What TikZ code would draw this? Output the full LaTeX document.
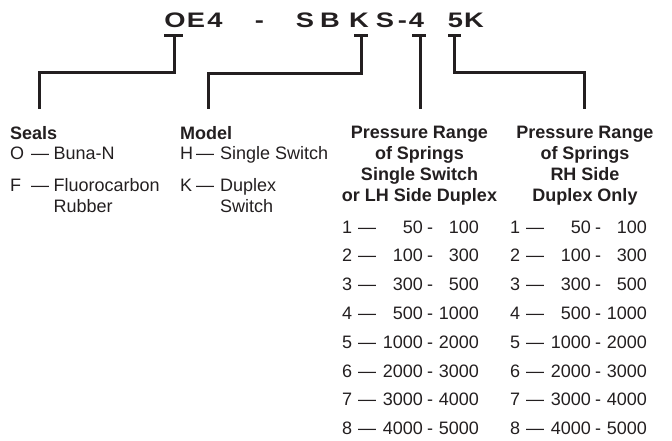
\documentclass[tikz,border=0pt]{standalone}
\usepackage{fontspec}
\setmainfont{Liberation Sans}
\usetikzlibrary{calc}

\definecolor{ink}{HTML}{231F20}

% Letra ancha del codigo
\newcommand{\wide}[1]{\scalebox{1.3}[1]{#1}}

\begin{document}
\begin{tikzpicture}[x=1pt, y=-1pt, line join=miter,
    code/.style={font=\fontsize{21}{25}\selectfont\bfseries, text=ink, inner sep=0pt, anchor=base},
    head/.style={font=\fontsize{18}{21}\selectfont\bfseries, text=ink, inner sep=0pt, anchor=base},
    item/.style={font=\fontsize{18}{21}\selectfont, text=ink, inner sep=0pt, anchor=base west},
    num/.style={item, anchor=base east},
    lead/.style={draw=ink, line width=3pt}]

    \useasboundingbox (0,0) rectangle (672,440);

    % Codigo de pedido
    \node[code] (cO)  at (175,27)   {\wide{O}};
    \node[code] (cE)  at (196,27)   {\wide{E}};
    \node[code] (c4)  at (215,27)   {\wide{4}};
    \node[code] (cDa) at (259.5,27) {\wide{-}};
    \node[code] (cS)  at (305,27)   {\wide{S}};
    \node[code] (cB)  at (330,27)   {\wide{B}};
    \node[code] (cK)  at (359,27)   {\wide{K}};
    \node[code] (cS2) at (385,27)   {\wide{S}};
    \node[code] (cDb) at (402.5,27) {\wide{-}};
    \node[code] (c4b) at (416.5,27) {\wide{4}};
    \node[code] (c5)  at (455.5,27) {\wide{5}};
    \node[code] (cK2) at (474,27)   {\wide{K}};

    % Puntos de las guias
    \coordinate (tO) at ($(cO.base)+(-1,8)$);
    \coordinate (tK) at ($(cK.base)+(2,8)$);
    \coordinate (t4) at ($(c4b.base)+(3.5,8)$);
    \coordinate (t5) at ($(c5.base)+(-1.5,8)$);

    \coordinate (eSeals) at (39,109);
    \coordinate (eModel) at (208,109);
    \coordinate (eLeft)  at (t4 |- 0,109);
    \coordinate (eRight) at (584,109);

    % Guias
    \draw[lead] ($(tO)+(-10,0)$) -- ($(tO)+(9,0)$);
    \draw[lead] (tO) |- (eSeals |- 0,72) -- (eSeals);

    \draw[lead] ($(tK)+(-7,0)$) -- ($(tK)+(7,0)$);
    \draw[lead] (tK) |- (eModel |- 0,73) -- (eModel);

    \draw[lead] ($(t4)+(-8,0)$) -- ($(t4)+(6,0)$);
    \draw[lead] (t4) -- (eLeft);

    \draw[lead] ($(t5)+(-6,0)$) -- ($(t5)+(7,0)$);
    \draw[lead] (t5) |- (eRight |- 0,72) -- (eRight);

    % Sellos
    \node[head, anchor=base west] (seals) at (10,139) {Seals};
    \node[item] (sO)  at (10,159) {O};
    \node[item] (sOd) at (31,159) {\textemdash};
    \node[item] (sOt) at (53.5,159) {Buna-N};
    \node[item] (sF)  at (10,191) {F};
    \node[item] (sFd) at (31,191) {\textemdash};
    \node[item] (sFt) at (53.5,191) {Fluorocarbon};
    \node[item] (sFu) at (53.5,212) {Rubber};

    % Modelo
    \node[head, anchor=base west] (model) at (180,139) {Model};
    \node[item] (mH)  at (180,159) {H};
    \node[item] (mHd) at (196,159) {\textemdash};
    \node[item] (mHt) at (220,159) {Single Switch};
    \node[item] (mK)  at (180,191) {K};
    \node[item] (mKd) at (196,191) {\textemdash};
    \node[item] (mKt) at (220,191) {Duplex};
    \node[item] (mKu) at (220,212) {Switch};

    % Rangos de presion
    \node[head] (pl1) at (419.5,138)   {Pressure Range};
    \node[head] (pl2) at (419.5,159.3) {of Springs};
    \node[head] (pl3) at (419.5,180.6) {Single Switch};
    \node[head] (pl4) at (419.5,201.9) {or LH Side Duplex};

    \node[head] (pr1) at (585,138)   {Pressure Range};
    \node[head] (pr2) at (585,159.3) {of Springs};
    \node[head] (pr3) at (585,180.6) {RH Side};
    \node[head] (pr4) at (585,201.9) {Duplex Only};

    % Tabla de resortes
    \foreach \k/\lo/\hi [count=\r from 0] in {1/50/100, 2/100/300, 3/300/500,
        4/500/1000, 5/1000/2000, 6/2000/3000, 7/3000/4000, 8/4000/5000}{
      \foreach \s/\dx in {l/0, r/168}{
        \node[item] (\s k\k) at (342+\dx,233+28.8*\r) {\k};
        \node[item] (\s d\k) at (358+\dx,233+28.8*\r) {\textemdash};
        \node[num]  (\s a\k) at (423+\dx,233+28.8*\r) {\lo};
        \node[item] (\s h\k) at (427+\dx,233+28.8*\r) {-};
        \node[num]  (\s b\k) at (479+\dx,233+28.8*\r) {\hi};
      }
    }

\end{tikzpicture}
\end{document}
